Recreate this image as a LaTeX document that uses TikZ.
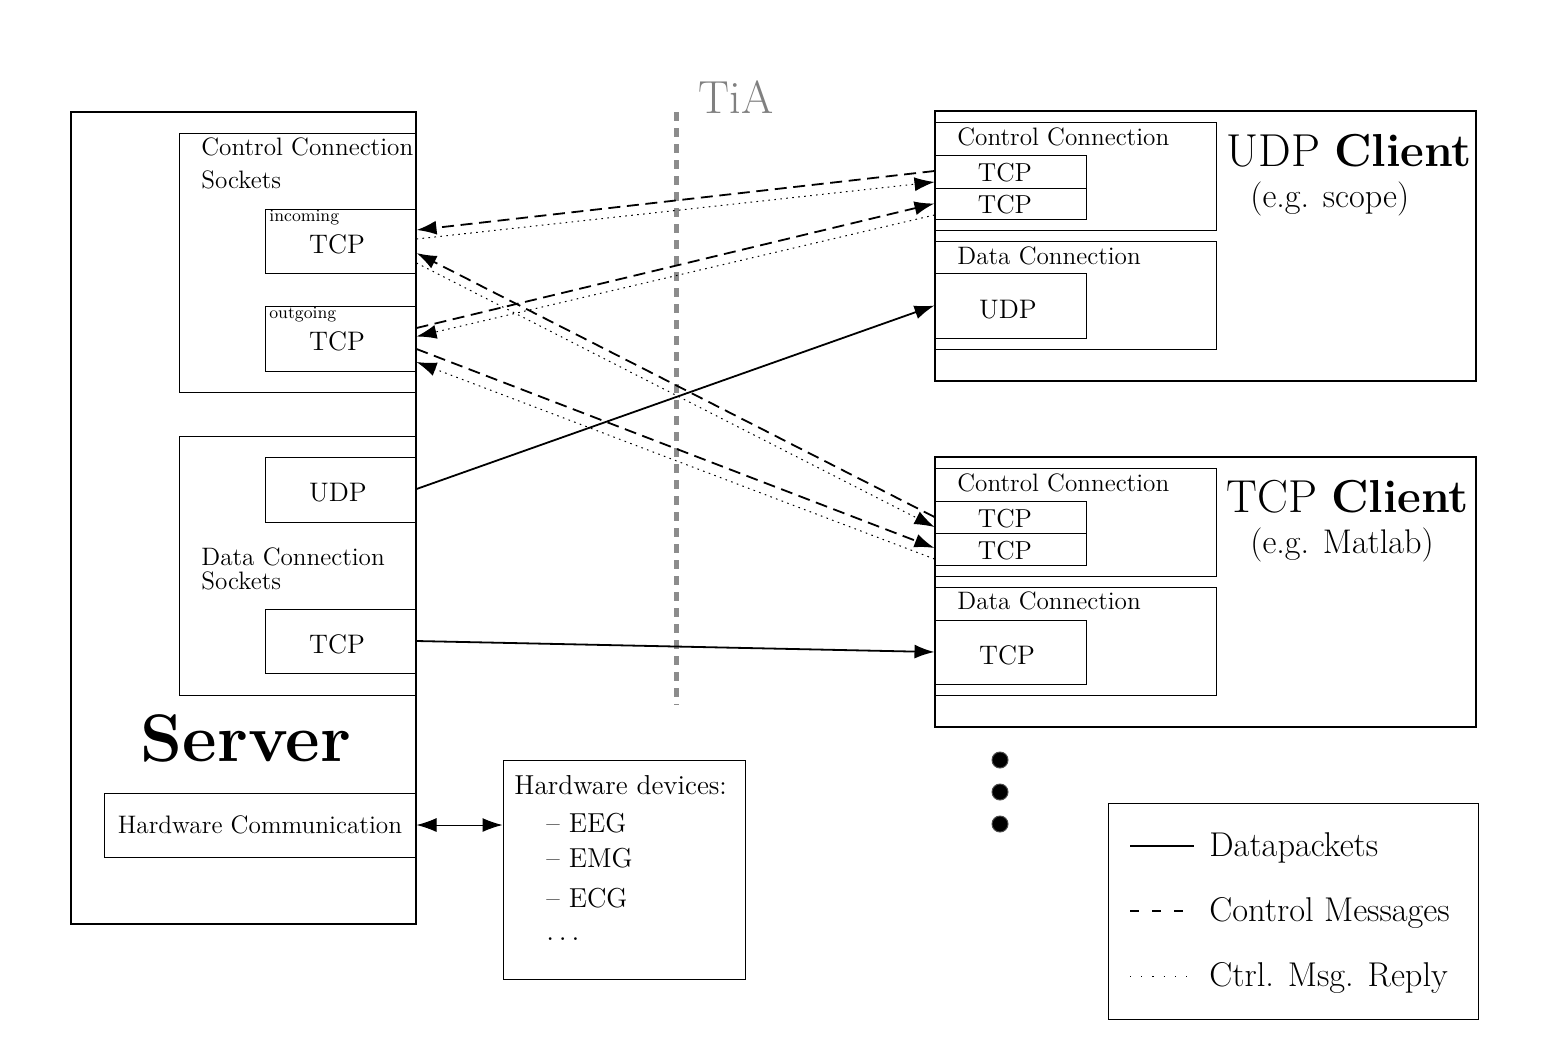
\documentclass[tikz,border=0pt]{standalone}
\usetikzlibrary{arrows.meta,fit,calc}
\begin{document}
\begin{tikzpicture}[x=0.5pt,y=-0.5pt,
  outerbox/.style={draw, line width=1pt, inner sep=0pt},
  innerbox/.style={draw, line width=0.5pt, inner sep=0pt},
  lbl/.style={inner sep=0pt, anchor=base west, font=\fontsize{12.6}{14}\selectfont},
  tiny/.style={inner sep=0pt, anchor=base west, font=\fontsize{8.6}{9}\selectfont},
  sproto/.style={inner sep=0pt, anchor=base, font=\fontsize{13.4}{15}\selectfont},
  cproto/.style={inner sep=0pt, anchor=base, font=\fontsize{13}{15}\selectfont},
  hwtxt/.style={inner sep=0pt, anchor=base west, font=\fontsize{13.7}{15}\selectfont},
  title/.style={inner sep=0pt, anchor=base west, font=\fontsize{23.1}{26}\selectfont},
  subtitle/.style={inner sep=0pt, anchor=base west, font=\fontsize{17.1}{19}\selectfont},
  legtxt/.style={inner sep=0pt, anchor=base west, font=\fontsize{17.2}{19}\selectfont},
  tip/.tip={Latex[length=10pt,width=7pt]},
  ctrlmsg/.style={line width=0.9pt, dash pattern=on 6pt off 3.3pt, -tip},
  reply/.style={line width=0.5pt, dash pattern=on 0.8pt off 2.2pt, -tip},
  datapk/.style={line width=0.9pt, -tip},
  dotnode/.style={circle, fill=black, draw=black!70, line width=0.5pt, minimum size=8pt, inner sep=0pt},
]
\useasboundingbox (0,0) rectangle (1566,1044);

% ---------------- Server ----------------
\node[outerbox, fit={(71,112)(416,924)}] (server) {};
\node[innerbox, fit={(179,133)(416,392)}] (ccs) {};
\node[lbl] (ccslbl) at (201,155) {Control Connection};
\node[lbl] (ccslbl2) at (201,188) {Sockets};
\node[innerbox, fit={(265,209)(416,273)}] (sin) {};
\node[tiny] (inlbl) at (269,221) {incoming};
\node[sproto] (sintxt) at (337,253) {TCP};
\node[innerbox, fit={(265,306)(416,371)}] (sout) {};
\node[tiny] (outlbl) at (269,318) {outgoing};
\node[sproto] (souttxt) at (337,350) {TCP};

\node[innerbox, fit={(179,436)(416,695)}] (dcs) {};
\node[innerbox, fit={(265,457)(416,522)}] (sudp) {};
\node[sproto] (sudptxt) at (338,501) {UDP};
\node[lbl] (dcslbl) at (201,565) {Data Connection};
\node[lbl] (dcslbl2) at (201,589) {Sockets};
\node[innerbox, fit={(265,609)(416,673)}] (stcp) {};
\node[sproto] (stcptxt) at (337,653) {TCP};

\node[inner sep=0pt, anchor=base, font=\fontsize{33.6}{38}\selectfont\bfseries] (srvlbl) at (246,761) {Server};
\node[innerbox, fit={(104,793)(416,857)}] (hwc) {};
\node[lbl, anchor=base, font=\fontsize{12.65}{14}\selectfont] (hwctxt) at (260,833) {Hardware Communication};

% ---------------- Hardware devices ----------------
\node[innerbox, fit={(503,760)(745,979)}] (hwd) {};
\node[hwtxt] (hwd1) at (514,794) {Hardware devices:};
\node[hwtxt] (hwd2) at (546,832) {-- EEG};
\node[hwtxt] (hwd3) at (546,867) {-- EMG};
\node[hwtxt] (hwd4) at (546,907) {-- ECG};
\node[hwtxt] (hwd5) at (546,940) {\(\ldots\)};
\draw[tip-tip, line width=0.5pt] (hwc.east) -- (hwd.west |- hwc.east);

% ---------------- TiA ----------------
\node[inner sep=0pt, anchor=base west, text=black!50, font=\fontsize{23.2}{26}\selectfont] (tia) at (698,113) {TiA};
\coordinate (tiatop) at (676,112);
\coordinate (tiabot) at (676,705);
\draw[black!45, line width=2.5pt, dash pattern=on 4.7pt off 3.3pt] (tiatop) -- (tiabot);

% ---------------- UDP Client ----------------
\node[outerbox, fit={(935,111)(1476,381)}] (uclient) {};
\node[innerbox, fit={(935,122)(1216,230)}] (ucc) {};
\node[lbl] (ucclbl) at (957,145) {Control Connection};
\node[innerbox, fit={(935,155)(1086,188)}] (uT1) {};
\node[cproto] (uT1txt) at (1005,181) {TCP};
\node[innerbox, fit={(935,188)(1086,219)}] (uT2) {};
\node[cproto] (uT2txt) at (1005,213) {TCP};
\node[innerbox, fit={(935,241)(1216,349)}] (udc) {};
\node[lbl] (udclbl) at (957,264) {Data Connection};
\node[innerbox, fit={(935,273)(1086,338)}] (uUDP) {};
\node[sproto] (uUDPtxt) at (1008,318) {UDP};
\node[title] (utitle) at (1226,166) {UDP \textbf{Client}};
\node[subtitle] (usub) at (1250,207) {(e.g. scope)};

% ---------------- TCP Client ----------------
\node[outerbox, fit={(935,457)(1476,727)}] (tclient) {};
\node[innerbox, fit={(935,468)(1216,576)}] (tcc) {};
\node[lbl] (tcclbl) at (957,491) {Control Connection};
\node[innerbox, fit={(935,501)(1086,533)}] (tT1) {};
\node[cproto] (tT1txt) at (1005,527) {TCP};
\node[innerbox, fit={(935,533)(1086,565)}] (tT2) {};
\node[cproto] (tT2txt) at (1005,559) {TCP};
\node[innerbox, fit={(935,587)(1216,695)}] (tdc) {};
\node[lbl] (tdclbl) at (957,609) {Data Connection};
\node[innerbox, fit={(935,620)(1086,684)}] (tTCP) {};
\node[sproto] (tTCPtxt) at (1007,664) {TCP};
\node[title] (ttitle) at (1226,512) {TCP \textbf{Client}};
\node[subtitle] (tsub) at (1250,553) {(e.g. Matlab)};

% ---------------- Connections ----------------
% UDP client
\draw[ctrlmsg] ($(uT1.west)+(0,-0.5)$) -- ($(sin.east)+(0,-11)$);
\draw[reply] ($(sin.east)+(0,-2)$) -- ($(uT1.west)+(0,10.5)$);
\draw[ctrlmsg] ($(sout.east)+(0,-10.5)$) -- ($(uT2.west)+(0,0)$);
\draw[reply] ($(uT2.west)+(0,11.5)$) -- ($(sout.east)+(0,-2)$);
% TCP client
\draw[ctrlmsg] ($(tT1.west)+(0,0)$) -- ($(sin.east)+(0,12)$);
\draw[reply] ($(sin.east)+(0,22)$) -- ($(tT1.west)+(0,10)$);
\draw[ctrlmsg] ($(sout.east)+(0,10.5)$) -- ($(tT2.west)+(0,-1)$);
\draw[reply] ($(tT2.west)+(0,10)$) -- ($(sout.east)+(0,23.5)$);
% data
\draw[datapk] ($(sudp.east)+(0,-0.5)$) -- ($(uUDP.west)+(0,0)$);
\draw[datapk] (stcp.east) -- (tTCP.west);

% ---------------- More clients ----------------
\node[dotnode] (dot1) at (1000,760) {};
\node[dotnode] (dot2) at (1000,792) {};
\node[dotnode] (dot3) at (1000,824) {};

% ---------------- Legend ----------------
\node[innerbox, fit={(1108,803)(1478,1019)}] (legend) {};
\coordinate (l1a) at (1130,846); \coordinate (l1b) at (1194,846);
\coordinate (l2a) at (1130,911); \coordinate (l2b) at (1190,911);
\coordinate (l3a) at (1130,976); \coordinate (l3b) at (1190,976);
\draw[line width=0.9pt] (l1a) -- (l1b);
\draw[line width=0.8pt, dash pattern=on 4.5pt off 6.5pt] (l2a) -- (l2b);
\draw[line width=0.4pt, dash pattern=on 0.6pt off 5pt] (l3a) -- (l3b);
\node[legtxt] (leg1) at (1209,856) {Datapackets};
\node[legtxt] (leg2) at (1209,921) {Control Messages};
\node[legtxt] (leg3) at (1209,986) {Ctrl. Msg. Reply};
\end{tikzpicture}
\end{document}
